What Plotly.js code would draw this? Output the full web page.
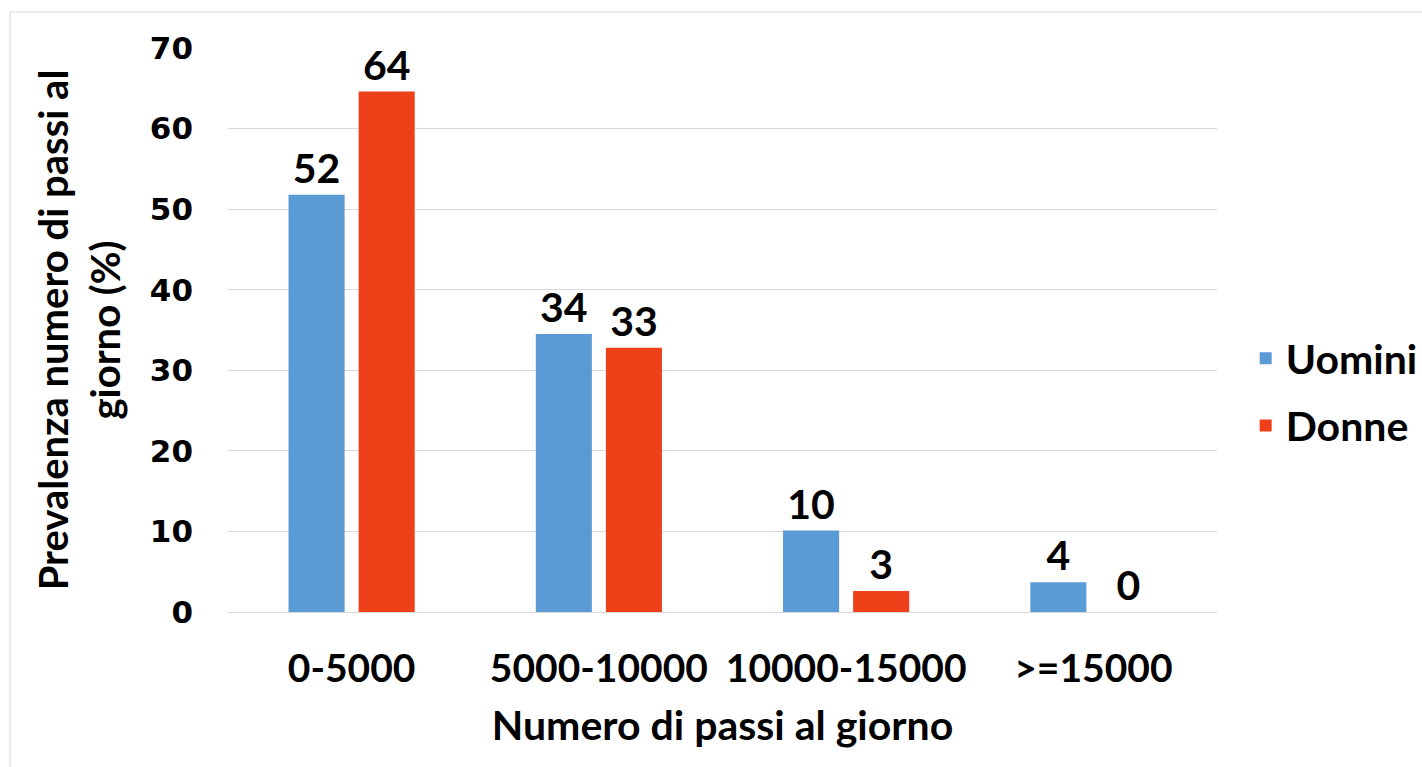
<!DOCTYPE html>
<html>
<head>
<meta charset="utf-8">
<script src="https://cdn.plot.ly/plotly-3.0.1.min.js"></script>
<style>
  html, body { margin: 0; padding: 0; background: #ffffff; }
  #chart { width: 1422px; height: 767px; }
</style>
</head>
<body>
<div id="chart"></div>
<script>
const categories = ["0-5000", "5000-10000", "10000-15000", ">=15000"];
const uominiValues = [51.8, 34.5, 10.1, 3.7];
const donneValues = [64.6, 32.8, 2.6, 0];
const uominiLabels = ["52", "34", "10", "4"];
const donneLabels = ["64", "33", "3", "0"];
const yTicks = [0, 10, 20, 30, 40, 50, 60, 70];

const labelFont = { family: "Lato, 'Open Sans', sans-serif", size: 41, color: "#000000", weight: "bold" };

const traces = [
  {
    type: "bar",
    name: "Uomini",
    legendgroup: "uomini",
    x: categories,
    y: uominiValues,
    text: uominiLabels,
    textposition: "outside",
    textfont: labelFont,
    cliponaxis: false,
    marker: { color: "#5B9BD5" },
    hoverinfo: "x+y+name"
  },
  {
    type: "bar",
    name: "Donne",
    legendgroup: "donne",
    x: categories,
    y: donneValues,
    text: donneLabels,
    textposition: "outside",
    textfont: labelFont,
    cliponaxis: false,
    marker: { color: "#EF4119" },
    hoverinfo: "x+y+name"
  }
];

const layout = {
  width: 1422,
  height: 767,
  margin: { l: 228, r: 205, t: 48, b: 155, autoexpand: false },
  paper_bgcolor: "#ffffff",
  plot_bgcolor: "#ffffff",
  barmode: "group",
  bargap: 0.433,
  bargroupgap: 0.2,
  showlegend: true,
  legend: {
    x: 1.029,
    xanchor: "left",
    y: 0.39,
    yanchor: "middle",
    font: { family: "Lato, 'Open Sans', sans-serif", size: 41, color: "#000000", weight: "bold" },
    bgcolor: "rgba(0,0,0,0)",
    borderwidth: 0,
    itemwidth: 30,
    tracegroupgap: 11
  },
  xaxis: {
    type: "category",
    showgrid: false,
    zeroline: false,
    showline: false,
    ticks: "",
    tickfont: { family: "Lato, 'Open Sans', sans-serif", size: 39, color: "#000000", weight: "bold" },
    ticklabelstandoff: 30,
    title: {
      text: "Numero di passi al giorno",
      font: { family: "Lato, 'Open Sans', sans-serif", size: 41, color: "#000000", weight: "bold" },
      standoff: 22
    },
    automargin: false,
    fixedrange: true
  },
  yaxis: {
    range: [0, 70],
    tickvals: yTicks,
    ticktext: yTicks.map(String),
    showgrid: true,
    gridcolor: "#D9D9D9",
    gridwidth: 1,
    zeroline: true,
    zerolinecolor: "#D9D9D9",
    zerolinewidth: 1,
    showline: false,
    ticks: "",
    tickfont: { family: "'DejaVu Sans', Verdana, sans-serif", size: 31, color: "#000000", weight: "bold" },
    ticklabelstandoff: 34,
    title: {
      text: "Prevalenza numero di passi al<br>giorno (%)",
      font: { family: "Lato, 'Open Sans', sans-serif", size: 40, color: "#000000", weight: "bold" },
      standoff: 16
    },
    automargin: false,
    fixedrange: true
  },
  shapes: [
    {
      type: "rect",
      xref: "paper",
      yref: "paper",
      x0: -0.2204,
      x1: 1.3,
      y0: -0.4,
      y1: 1.0638,
      line: { color: "#E3E3E3", width: 1.5 },
      fillcolor: "rgba(0,0,0,0)",
      layer: "below"
    }
  ]
};

Plotly.newPlot("chart", traces, layout, { displayModeBar: false, staticPlot: true });
</script>
</body>
</html>
